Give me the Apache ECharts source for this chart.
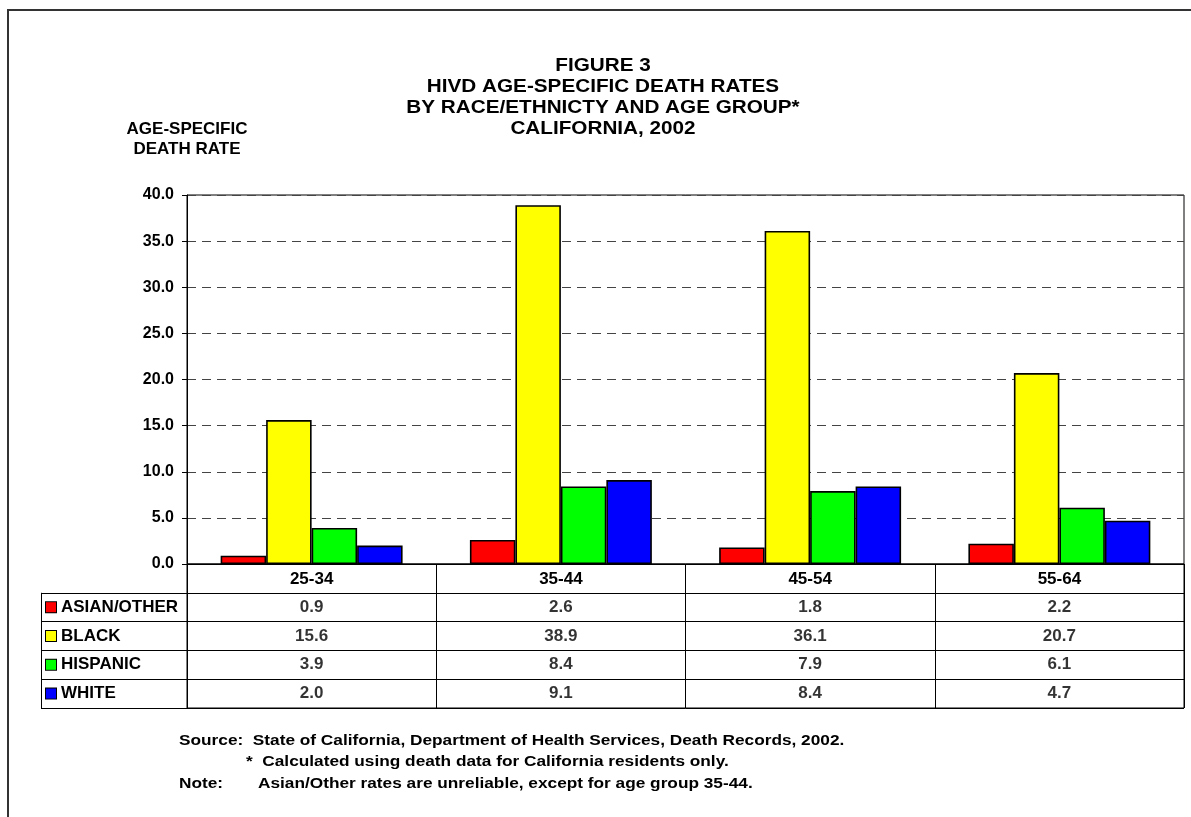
<!DOCTYPE html>
<html><head><meta charset="utf-8">
<script src="https://cdn.jsdelivr.net/npm/echarts@6/dist/echarts.min.js"></script>
<style>html,body{margin:0;padding:0;background:#fff}#c{width:1191px;height:817px}</style>
</head><body><div id="c"></div><script>
// ---- data ----
const categories = ['25-34', '35-44', '45-54', '55-64'];
const seriesNames = ['ASIAN/OTHER', 'BLACK', 'HISPANIC', 'WHITE'];
const asianOther = [0.9, 2.6, 1.8, 2.2];
const black = [15.6, 38.9, 36.1, 20.7];
const hispanic = [3.9, 8.4, 7.9, 6.1];
const white = [2.0, 9.1, 8.4, 4.7];
const titleLines = ['FIGURE 3', 'HIVD AGE-SPECIFIC DEATH RATES', 'BY RACE/ETHNICTY AND AGE GROUP*', 'CALIFORNIA, 2002'];
const yAxisTitle = ['AGE-SPECIFIC', 'DEATH RATE'];
const footSource = 'Source:  State of California, Department of Health Services, Death Records, 2002.';
const footStar = '*  Calculated using death data for California residents only.';
const footNoteLabel = 'Note:';
const footNoteText = 'Asian/Other rates are unreliable, except for age group 35-44.';

// ---- style ----
const colors = ['#FF0000', '#FFFF00', '#00FF00', '#0000FF'];
const FONT = '"Liberation Sans", Arial, Helvetica, sans-serif';
const allValues = [asianOther, black, hispanic, white];

const PLOT_LEFT = 187, PLOT_RIGHT = 7, PLOT_TOP = 195, PLOT_BOTTOM_Y = 564;
const TABLE_TOP = 564, ROW_H = 28.8, TABLE_ROWS = 5;
const LEGEND_LEFT = 41;
const STRETCH = 1.15;

const chart = echarts.init(document.getElementById('c'), null, {renderer: 'canvas'});

const rowCats = [''].concat(seriesNames);
const cellData = [];
allValues.forEach((vals, s) => {
  vals.forEach((v, i) => cellData.push([i, seriesNames[s], v]));
});

const rich = {t: {fontFamily: FONT, fontWeight: 'bold', fontSize: 17, color: '#000', padding: [0, 0, 0, 5]}};
colors.forEach((c, i) => {
  rich['b' + i] = {width: 10, height: 10, backgroundColor: c, borderColor: '#000', borderWidth: 1};
});

const graphics = [
  {type: 'polyline', shape: {points: [[8, 817], [8, 10], [1191, 10]]}, style: {stroke: '#333', lineWidth: 2, fill: null}, silent: true},
  {type: 'line', shape: {x1: LEGEND_LEFT + 0.5, y1: TABLE_TOP + ROW_H, x2: LEGEND_LEFT + 0.5, y2: TABLE_TOP + ROW_H * TABLE_ROWS}, style: {stroke: '#000', lineWidth: 1}, silent: true}
];
titleLines.forEach((t, i) => {
  graphics.push({type: 'text', x: 603, y: 66 + i * 21, scaleX: STRETCH, style: {text: t, font: 'bold 18px ' + FONT, fill: '#000', textAlign: 'center', textVerticalAlign: 'middle'}, silent: true});
});
yAxisTitle.forEach((t, i) => {
  graphics.push({type: 'text', x: 187, y: 129 + i * 20, style: {text: t, font: 'bold 17px ' + FONT, fill: '#000', textAlign: 'center', textVerticalAlign: 'middle'}, silent: true});
});
const foot = [[179, 741, footSource], [246, 762, footStar], [179, 784, footNoteLabel], [258, 784, footNoteText]];
foot.forEach(f => {
  graphics.push({type: 'text', x: f[0], y: f[1], scaleX: STRETCH, style: {text: f[2], font: 'bold 15px ' + FONT, fill: '#000', textAlign: 'left', textVerticalAlign: 'middle'}, silent: true});
});

const option = {
  backgroundColor: '#fff',
  animation: false,
  textStyle: {fontFamily: FONT},
  grid: [
    {left: PLOT_LEFT, right: PLOT_RIGHT, top: PLOT_TOP, height: PLOT_BOTTOM_Y - PLOT_TOP, show: true, borderColor: '#000', borderWidth: 1, backgroundColor: 'transparent'},
    {left: PLOT_LEFT, right: PLOT_RIGHT, top: TABLE_TOP, height: ROW_H * TABLE_ROWS, show: true, borderColor: '#000', borderWidth: 1, backgroundColor: 'transparent'}
  ],
  xAxis: [
    {type: 'category', gridIndex: 0, data: categories,
     axisLine: {show: true, lineStyle: {color: '#000', width: 1}},
     axisTick: {show: false},
     axisLabel: {show: true, color: '#000', fontFamily: FONT, fontWeight: 'bold', fontSize: 17, margin: 7},
     splitLine: {show: false}},
    {type: 'category', gridIndex: 1, data: categories,
     axisLine: {show: false}, axisTick: {show: false}, axisLabel: {show: false},
     splitLine: {show: true, lineStyle: {color: '#000', width: 1}}}
  ],
  yAxis: [
    {type: 'value', gridIndex: 0, min: 0, max: 40, interval: 5,
     axisLine: {show: true, lineStyle: {color: '#000', width: 1}},
     axisTick: {show: true, length: 5, lineStyle: {color: '#000'}},
     axisLabel: {color: '#000', fontFamily: FONT, fontWeight: 'bold', fontSize: 16, margin: 13, formatter: v => v.toFixed(1)},
     splitLine: {show: true, lineStyle: {color: '#444', width: 1, type: [9, 6]}}},
    {type: 'category', gridIndex: 1, data: rowCats, inverse: true,
     axisLine: {show: true, lineStyle: {color: '#000', width: 1}},
     axisTick: {show: true, length: 146, lineStyle: {color: '#000', width: 1}, interval: (idx) => idx !== 0},
     axisLabel: {show: true, align: 'left', margin: 141, interval: 0,
       formatter: (v, idx) => v ? '{b' + (idx - 1) + '|}{t|' + v + '}' : '', rich: rich},
     splitLine: {show: true, lineStyle: {color: '#000', width: 1}}}
  ],
  series: seriesNames.map((name, s) => ({
    name: name, type: 'bar', xAxisIndex: 0, yAxisIndex: 0,
    data: allValues[s], barGap: '0%', barCategoryGap: '27%',
    itemStyle: {color: colors[s], borderColor: '#000', borderWidth: 1.6},
    silent: true
  })).concat([{
    type: 'scatter', xAxisIndex: 1, yAxisIndex: 1, data: cellData,
    symbolSize: 1, itemStyle: {color: 'rgba(0,0,0,0)'}, silent: true,
    label: {show: true, position: 'inside', color: '#000', fontFamily: FONT, fontWeight: 'bold', fontSize: 17,
      formatter: p => p.value[2].toFixed(1)}
  }]),
  graphic: graphics
};
chart.setOption(option);
</script></body></html>
